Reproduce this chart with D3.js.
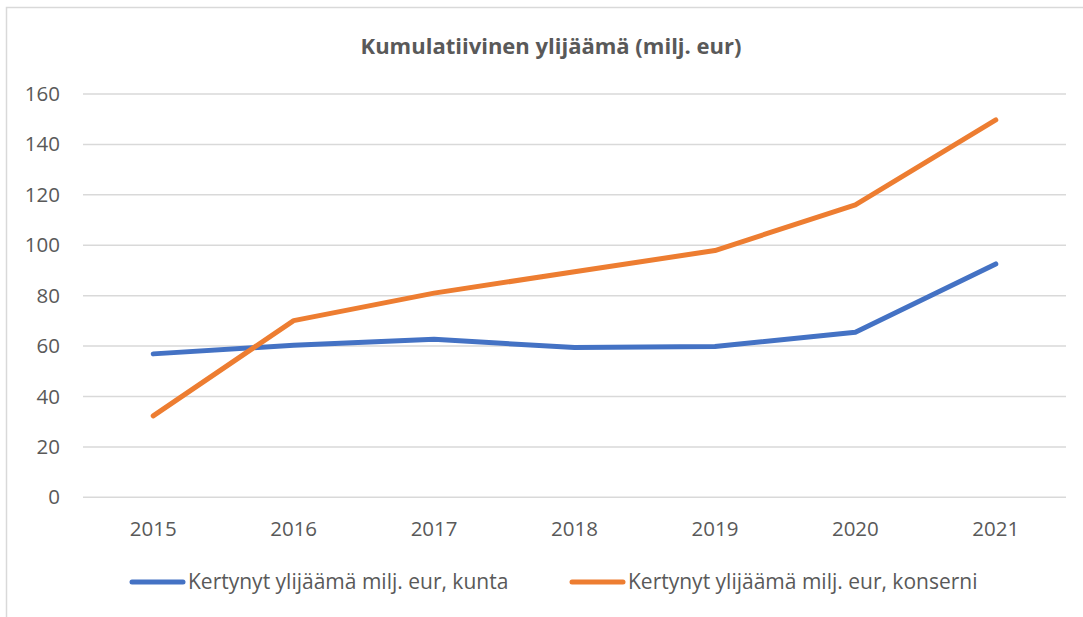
<!DOCTYPE html>
<html>
<head>
<meta charset="utf-8">
<script src="https://cdn.jsdelivr.net/npm/d3@7"></script>
<style>
  html, body { margin: 0; padding: 0; background: #fff; }
  svg { display: block; font-family: "Open Sans", sans-serif; }
</style>
</head>
<body>
<svg id="chart" width="1083" height="617"></svg>
<script>
const title = "Kumulatiivinen ylijäämä (milj. eur)";
const years = ["2015", "2016", "2017", "2018", "2019", "2020", "2021"];
const kunta = [56.9, 60.3, 62.7, 59.4, 59.8, 65.5, 92.6];
const konserni = [32.3, 70.1, 81.0, 89.5, 97.9, 116.0, 149.7];
const seriesNames = ["Kertynyt ylijäämä milj. eur, kunta", "Kertynyt ylijäämä milj. eur, konserni"];
const seriesColors = ["#4472C4", "#ED7D31"];
const yTicks = [0, 20, 40, 60, 80, 100, 120, 140, 160];

(function () {
const svg = d3.select("#chart");
const textColor = "#595959";
const fontFamily = "'Open Sans', sans-serif";

// chart border
svg.append("rect").attr("x", 6.5).attr("y", 7.5).attr("width", 1200).attr("height", 800)
  .attr("fill", "none").attr("stroke", "#D9D9D9").attr("stroke-width", 1.5);

const pLeft = 83, pRight = 1066, pTop = 94, pBottom = 497.3;

const x = d3.scaleBand().domain(years).range([pLeft, pRight]);
const y = d3.scaleLinear().domain([0, 160]).range([pBottom, pTop]);

// gridlines
svg.append("g").selectAll("line").data(yTicks).join("line")
  .attr("x1", pLeft).attr("x2", pRight)
  .attr("y1", d => y(d)).attr("y2", d => y(d))
  .attr("stroke", "#D9D9D9").attr("stroke-width", 1.5);

// y axis labels
const yAxis = svg.append("g").attr("transform", `translate(${pLeft},0)`)
  .call(d3.axisLeft(y).tickValues(yTicks).tickSize(0).tickPadding(23));
yAxis.select(".domain").remove();
yAxis.selectAll("text").attr("fill", textColor).style("font-size", "20.5px")
  .style("font-family", fontFamily);

// x axis labels
const xAxis = svg.append("g").attr("transform", `translate(0,${pBottom})`)
  .call(d3.axisBottom(x).tickSize(0).tickPadding(24));
xAxis.select(".domain").remove();
xAxis.selectAll("text").attr("fill", textColor).style("font-size", "20.5px")
  .style("font-family", fontFamily);

// lines
const line = d3.line().x((d, i) => x(years[i]) + x.bandwidth() / 2).y(d => y(d));
[kunta, konserni].forEach((vals, k) => {
  svg.append("path").datum(vals)
    .attr("d", line)
    .attr("fill", "none")
    .attr("stroke", seriesColors[k])
    .attr("stroke-width", 5)
    .attr("stroke-linecap", "round")
    .attr("stroke-linejoin", "round");
});

// title
svg.append("text").attr("x", 551).attr("y", 54)
  .attr("text-anchor", "middle").attr("fill", textColor)
  .style("font-size", "22px").style("font-weight", "bold")
  .text(title);

// legend
const legendX = [130, 570];
const legendY = 582;
seriesNames.forEach((name, k) => {
  const g = svg.append("g").attr("transform", `translate(${legendX[k]},${legendY})`);
  g.append("line").attr("x1", 2).attr("x2", 53).attr("y1", 0).attr("y2", 0)
    .attr("stroke", seriesColors[k]).attr("stroke-width", 5).attr("stroke-linecap", "round");
  g.append("text").attr("x", 58).attr("y", 0).attr("dy", "0.35em")
    .attr("fill", textColor).style("font-size", "21px").text(name);
});
})();
</script>
</body>
</html>
